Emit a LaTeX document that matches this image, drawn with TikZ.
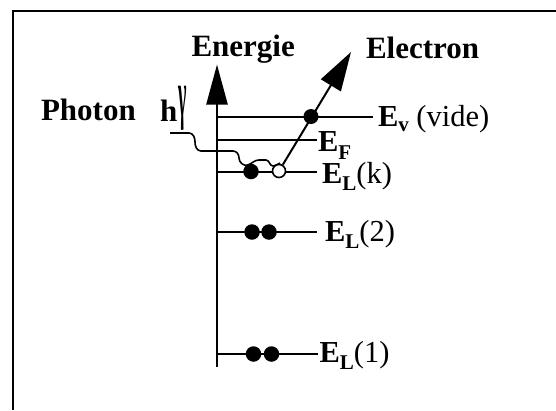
\documentclass[tikz,border=0pt]{standalone}
\usepackage{fontspec}
\setmainfont{Liberation Serif}
\usetikzlibrary{arrows.meta}
\newcommand\bigf{\fontsize{31}{31}\selectfont}
\newcommand\labf{\fontsize{30.5}{30.5}\selectfont}
\newcommand\subf{\fontsize{21}{21}\selectfont\bfseries}
\newcommand\lowsub[2]{\raisebox{-#1}{\subf #2}}
\begin{document}
\begin{tikzpicture}[x=1pt,y=-1pt,
  txt/.style={inner sep=0pt,outer sep=0pt,anchor=base west},
  title/.style={txt,font=\bigf\bfseries},
  lab/.style={txt,font=\labf},
  level/.style={line width=2pt},
  filled/.style={circle,fill=black,inner sep=0pt,minimum size=15.5pt},
  hollow/.style={circle,draw=black,fill=white,line width=1.6pt,inner sep=0pt,minimum size=13pt},
  bigarrow/.style={line width=2.4pt,-{Triangle[length=40pt,width=21pt]}},
  wave/.style={line width=1.6pt,line join=round}]
\useasboundingbox (0,0) rectangle (556,410);
\fill[white] (0,0) rectangle (556,410);
% frame
\draw[line width=1.8pt] (12.8,410) -- (12.8,10.6) -- (556,10.6);
% titles
\node[title] (energie) at (191.5,56.5) {Energie};
\node[title] (electron) at (366,58) {Electron};
\node[title] (photon) at (41,120) {Photon};
\node[title] (h) at (160,121) {h};
\node[inner sep=0pt,anchor=north west] (nu) at (178.5,86) {\scalebox{0.6}[2.2]{\fontsize{30}{30}\selectfont\bfseries γ}};
% axis
\coordinate (axbot) at (217,367);
\coordinate (axtop) at (217,64.5);
\draw[bigarrow] (axbot) -- (axtop);
% levels
\coordinate (v0) at (217,116.5);  \coordinate (v1) at (373,116.5);
\coordinate (f0) at (217,139.5);  \coordinate (f1) at (317,139.5);
\coordinate (k0) at (217,171.5);  \coordinate (k1) at (317,171.5);
\coordinate (l20) at (217,232);   \coordinate (l21) at (317,232);
\coordinate (l10) at (217,353.5); \coordinate (l11) at (318,353.5);
\draw[level] (v0) -- (v1);
\draw[level] (f0) -- (f1);
\draw[level] (k0) -- (k1);
\draw[level] (l20) -- (l21);
\draw[level] (l10) -- (l11);
% labels
\node[lab] (Ev) at (378,126.5) {\textbf{E}\lowsub{5pt}{v} (vide)};
\node[lab] (EF) at (318,151.5) {\textbf{E}\lowsub{8pt}{F}};
\node[lab] (ELk) at (322,183) {\textbf{E}\lowsub{7pt}{L}(k)};
\node[lab] (EL2) at (325,241.5) {\textbf{E}\lowsub{7pt}{L}(2)};
\node[lab] (EL1) at (319.5,362) {\textbf{E}\lowsub{7pt}{L}(1)};
% photon wave
\coordinate (w0) at (170,133);
\draw[wave] (w0) -- (189,133) to[out=0,in=90] (195,142) to[out=-90,in=180] (201,151)
  -- (233,151) to[out=0,in=90] (239,158) to[out=-90,in=200] (248,165)
  to[out=20,in=180] (259,160) -- (266,160) to[out=0,in=180] (273,166) to[out=0,in=200] (280,163);
% electrons
\node[filled] (dk) at (251,171.5) {};
\node[hollow] (hk) at (279,171) {};
\node[filled] (d21) at (252,232) {};
\node[filled] (d22) at (269,232) {};
\node[filled] (d11) at (253.5,354) {};
\node[filled] (d12) at (271.5,354) {};
% emitted electron
\coordinate (etip) at (351,52);
\draw[line width=2pt,-{Triangle[length=39pt,width=23pt]}] (hk) -- (etip);
\node[filled,minimum size=15pt] (dv) at (311,116.5) {};
\end{tikzpicture}
\end{document}
